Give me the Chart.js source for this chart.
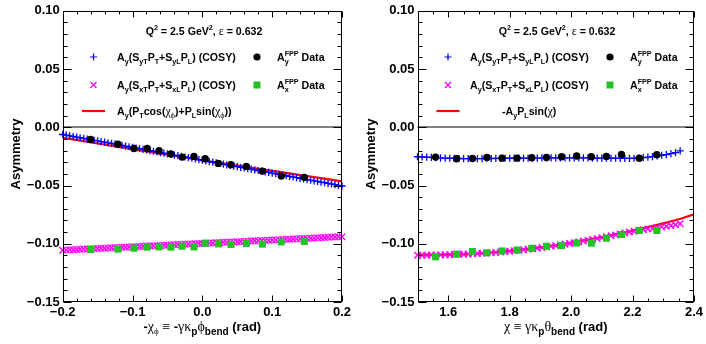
<!DOCTYPE html>
<html><head><meta charset="utf-8">
<script src="https://cdn.jsdelivr.net/npm/chart.js@4"></script>
<style>
html,body{margin:0;padding:0;background:#fff;}
#wrap{position:relative;width:706px;height:344px;background:#fff;}
canvas{position:absolute;left:0;top:0;}
</style></head><body>
<div id="wrap"><canvas id="c1" width="706" height="344"></canvas><canvas id="c2" width="706" height="344"></canvas></div>
<script>
// ---------------- data: left panel ----------------
const leftCosyX = [-0.200,-0.195,-0.190,-0.185,-0.180,-0.175,-0.170,-0.165,-0.160,-0.155,
-0.150,-0.145,-0.140,-0.135,-0.130,-0.125,-0.120,-0.115,-0.110,-0.105,
-0.100,-0.095,-0.090,-0.085,-0.080,-0.075,-0.070,-0.065,-0.060,-0.055,
-0.050,-0.045,-0.040,-0.035,-0.030,-0.025,-0.020,-0.015,-0.010,-0.005,
0.000,0.005,0.010,0.015,0.020,0.025,0.030,0.035,0.040,0.045,
0.050,0.055,0.060,0.065,0.070,0.075,0.080,0.085,0.090,0.095,
0.100,0.105,0.110,0.115,0.120,0.125,0.130,0.135,0.140,0.145,
0.150,0.155,0.160,0.165,0.170,0.175,0.180,0.185,0.190,0.195,0.200];
const leftCosyAy = [-0.0062,-0.0068,-0.0073,-0.0079,-0.0084,-0.0090,-0.0095,-0.0101,-0.0106,-0.0112,
-0.0117,-0.0123,-0.0128,-0.0134,-0.0139,-0.0145,-0.0150,-0.0156,-0.0161,-0.0167,
-0.0172,-0.0178,-0.0184,-0.0189,-0.0195,-0.0200,-0.0206,-0.0211,-0.0217,-0.0222,
-0.0228,-0.0233,-0.0239,-0.0244,-0.0250,-0.0255,-0.0261,-0.0266,-0.0272,-0.0277,
-0.0283,-0.0288,-0.0294,-0.0300,-0.0305,-0.0311,-0.0316,-0.0322,-0.0327,-0.0333,
-0.0338,-0.0344,-0.0349,-0.0355,-0.0360,-0.0366,-0.0371,-0.0377,-0.0382,-0.0388,
-0.0393,-0.0399,-0.0404,-0.0410,-0.0416,-0.0421,-0.0427,-0.0432,-0.0438,-0.0443,
-0.0449,-0.0454,-0.0460,-0.0465,-0.0471,-0.0476,-0.0482,-0.0487,-0.0493,-0.0498,-0.0504];
const leftCosyAx = [-0.1055,-0.1054,-0.1052,-0.1051,-0.1049,-0.1048,-0.1046,-0.1045,-0.1043,-0.1042,
-0.1041,-0.1039,-0.1038,-0.1036,-0.1035,-0.1033,-0.1032,-0.1030,-0.1029,-0.1027,
-0.1026,-0.1025,-0.1023,-0.1022,-0.1020,-0.1019,-0.1017,-0.1016,-0.1014,-0.1013,
-0.1012,-0.1010,-0.1009,-0.1007,-0.1006,-0.1004,-0.1003,-0.1001,-0.1000,-0.0998,
-0.0997,-0.0996,-0.0994,-0.0993,-0.0991,-0.0990,-0.0988,-0.0987,-0.0985,-0.0984,
-0.0983,-0.0981,-0.0980,-0.0978,-0.0977,-0.0975,-0.0974,-0.0972,-0.0971,-0.0969,
-0.0968,-0.0967,-0.0965,-0.0964,-0.0962,-0.0961,-0.0959,-0.0958,-0.0956,-0.0955,
-0.0954,-0.0952,-0.0951,-0.0949,-0.0948,-0.0946,-0.0945,-0.0943,-0.0942,-0.0940,-0.0939];
const leftDataX  = [-0.160,-0.121,-0.098,-0.079,-0.062,-0.045,-0.029,-0.012,0.004,0.023,0.041,0.063,0.086,0.113,0.146];
const leftDataAy = [-0.0104,-0.0145,-0.0182,-0.0182,-0.0201,-0.0230,-0.0256,-0.0250,-0.0270,-0.0310,-0.0321,-0.0336,-0.0376,-0.0419,-0.0430];
const leftDataAx = [-0.1049,-0.1046,-0.1038,-0.1029,-0.1027,-0.1029,-0.1021,-0.1027,-0.0995,-0.1001,-0.1006,-0.0997,-0.1003,-0.0984,-0.0980];
const leftModelX = [-0.20,-0.15,-0.10,-0.05,0.00,0.05,0.10,0.15,0.20];
const leftModelY = [-0.0090,-0.0139,-0.0187,-0.0236,-0.0284,-0.0329,-0.0374,-0.0419,-0.0464];
const leftXTicks = [-0.2,-0.1,0.0,0.1,0.2];
const leftXLabels = ['\u22120.2','\u22120.1','0.0','0.1','0.2'];

// ---------------- data: right panel ----------------
const rightCosyX = [1.500,1.515,1.530,1.545,1.560,1.575,1.590,1.605,1.620,1.635,
1.650,1.665,1.680,1.695,1.710,1.725,1.740,1.755,1.770,1.785,
1.800,1.815,1.830,1.845,1.860,1.875,1.890,1.905,1.920,1.935,
1.950,1.965,1.980,1.995,2.010,2.025,2.040,2.055,2.070,2.085,
2.100,2.115,2.130,2.145,2.160,2.175,2.190,2.205,2.220,2.235,
2.250,2.265,2.280,2.295,2.310,2.325,2.340,2.355];
const rightCosyAy = [-0.0253,-0.0255,-0.0257,-0.0259,-0.0261,-0.0263,-0.0264,-0.0266,-0.0267,-0.0268,
-0.0269,-0.0269,-0.0270,-0.0269,-0.0269,-0.0268,-0.0268,-0.0267,-0.0267,-0.0266,
-0.0266,-0.0265,-0.0265,-0.0265,-0.0264,-0.0264,-0.0264,-0.0263,-0.0263,-0.0263,
-0.0262,-0.0262,-0.0262,-0.0262,-0.0262,-0.0262,-0.0263,-0.0263,-0.0263,-0.0264,
-0.0264,-0.0265,-0.0266,-0.0266,-0.0267,-0.0267,-0.0267,-0.0266,-0.0264,-0.0261,
-0.0257,-0.0252,-0.0246,-0.0240,-0.0234,-0.0227,-0.0217,-0.0203];
const rightCosyAx = [-0.1098,-0.1098,-0.1098,-0.1097,-0.1097,-0.1096,-0.1095,-0.1094,-0.1093,-0.1091,
-0.1090,-0.1088,-0.1086,-0.1084,-0.1082,-0.1079,-0.1077,-0.1074,-0.1071,-0.1067,
-0.1064,-0.1060,-0.1056,-0.1052,-0.1047,-0.1043,-0.1038,-0.1033,-0.1027,-0.1022,
-0.1016,-0.1010,-0.1004,-0.0997,-0.0991,-0.0984,-0.0977,-0.0970,-0.0963,-0.0955,
-0.0948,-0.0940,-0.0932,-0.0924,-0.0916,-0.0908,-0.0900,-0.0893,-0.0886,-0.0880,
-0.0874,-0.0868,-0.0862,-0.0856,-0.0850,-0.0843,-0.0836,-0.0829];
const rightDataX  = [1.559,1.627,1.679,1.726,1.775,1.824,1.872,1.920,1.969,2.018,2.066,2.115,2.164,2.222,2.279];
const rightDataAy = [-0.0256,-0.0270,-0.0267,-0.0259,-0.0265,-0.0265,-0.0261,-0.0259,-0.0253,-0.0247,-0.0253,-0.0250,-0.0233,-0.0265,-0.0235];
const rightDataAx = [-0.1112,-0.1089,-0.1066,-0.1078,-0.1062,-0.1054,-0.1039,-0.1022,-0.1016,-0.0993,-0.0995,-0.0952,-0.0920,-0.0886,-0.0886];
const rightModelX = [1.50,1.55,1.60,1.65,1.70,1.75,1.80,1.85,1.90,1.95,2.00,2.05,2.10,2.15,2.20,2.25,2.30,2.35,2.40];
const rightModelY = [-0.1093,-0.1095,-0.1094,-0.1090,-0.1083,-0.1073,-0.1061,-0.1047,-0.1030,-0.1011,-0.0990,-0.0967,-0.0942,-0.0915,-0.0887,-0.0857,-0.0825,-0.0790,-0.0747];
const rightXTicks = [1.6,1.8,2.0,2.2,2.4];
const rightXLabels = ['1.6','1.8','2.0','2.2','2.4'];

// ---------------- shared y axis ----------------
const yTicks = [-0.15,-0.10,-0.05,0.00,0.05,0.10];
const yTickLabels = ['\u22120.15','\u22120.10','\u22120.05','0.00','0.05','0.10'];

// ---------------- helpers ----------------
const SANS = '"Liberation Sans", Arial, Helvetica, sans-serif';
const GREEK = '"Liberation Serif", "DejaVu Serif", serif';
const GREEN = '#22c322';
function fnt(size,bold,fam){return (bold?'bold ':'')+size+'px '+(fam||SANS);}
function zip(xs,ys){return xs.map((x,i)=>({x:x,y:ys[i]}));}
function labelFor(vals,labels,v){let bi=0,bd=1e9;vals.forEach((t,i)=>{const d=Math.abs(t-v);if(d<bd){bd=d;bi=i;}});return labels[bi];}

function drawRich(ctx, segs, x, y, align){
  let w=0; const items=[];
  for(const s of segs){ctx.font=s.f;const mw=ctx.measureText(s.t).width;items.push({s:s,mw:mw});if(s.adv!==false)w+=mw;}
  let cx = align==='center'? x-w/2 : (align==='right'? x-w : x);
  ctx.textBaseline='alphabetic'; ctx.textAlign='left'; ctx.fillStyle='#000';
  for(const it of items){ctx.font=it.s.f;ctx.fillText(it.s.t,cx,y+(it.s.dy||0));if(it.s.adv!==false)cx+=it.mw;}
}
const M=t=>({t:t,f:fnt(10.6,true)});
const SB=t=>({t:t,f:fnt(7.2,true),dy:3});
const SBn=t=>({t:t,f:fnt(7.2,true),dy:3,adv:false});
const SP=t=>({t:t,f:fnt(7.2,true),dy:-5});
const G=t=>({t:t,f:fnt(12,false,GREEK)});
const GS=t=>({t:t,f:fnt(8,false,GREEK),dy:3});

function marker(ctx,type,x,y){
  ctx.save();
  if(type==='plus'){ctx.strokeStyle='#0000ff';ctx.lineWidth=1.2;ctx.beginPath();ctx.moveTo(x-3.5,y);ctx.lineTo(x+3.5,y);ctx.moveTo(x,y-3.5);ctx.lineTo(x,y+3.5);ctx.stroke();}
  else if(type==='cross'){ctx.strokeStyle='#ff00ff';ctx.lineWidth=1.3;ctx.beginPath();ctx.moveTo(x-3,y-3);ctx.lineTo(x+3,y+3);ctx.moveTo(x+3,y-3);ctx.lineTo(x-3,y+3);ctx.stroke();}
  else if(type==='dot'){ctx.fillStyle='#000';ctx.beginPath();ctx.arc(x,y,3.6,0,Math.PI*2);ctx.fill();}
  else if(type==='square'){ctx.fillStyle=GREEN;ctx.fillRect(x-3.5,y-3.5,7,7);}
  else if(type==='line'){ctx.strokeStyle='#ff0000';ctx.lineWidth=2.2;ctx.beginPath();ctx.moveTo(x-11.5,y);ctx.lineTo(x+11.5,y);ctx.stroke();}
  ctx.restore();
}

function framePlugin(p){
  return {
    id:'frame'+p.id,
    beforeDatasetsDraw(chart){
      const ctx=chart.ctx,a=chart.chartArea,ys=chart.scales.y;
      const y0=Math.round(ys.getPixelForValue(0));
      ctx.save();ctx.strokeStyle='#7f7f7f';ctx.lineWidth=2;
      ctx.beginPath();ctx.moveTo(a.left,y0);ctx.lineTo(a.right,y0);ctx.stroke();ctx.restore();
    },
    afterDraw(chart){
      const ctx=chart.ctx,a=chart.chartArea,xs=chart.scales.x,ys=chart.scales.y;
      const L=Math.round(a.left)+0.5,R=Math.round(a.right)-0.5,T=Math.round(a.top)+0.5,B=Math.round(a.bottom)-0.5;
      ctx.save();
      ctx.strokeStyle='#000';ctx.lineWidth=1;
      ctx.strokeRect(L,T,R-L,B-T);
      ctx.beginPath();
      const nx=Math.round((p.xMax-p.xMin)/p.xMinor);
      for(let i=0;i<=nx;i++){
        const v=p.xMin+i*p.xMinor;
        const major=p.xTicks.some(t=>Math.abs(t-v)<1e-6);
        const len=major?6:3;
        const px=Math.round(xs.getPixelForValue(v))+0.5;
        ctx.moveTo(px,B);ctx.lineTo(px,B-len);
        ctx.moveTo(px,T);ctx.lineTo(px,T+len);
      }
      const ny=Math.round((0.10+0.15)/0.01);
      for(let i=0;i<=ny;i++){
        const v=-0.15+i*0.01;
        const major=yTicks.some(t=>Math.abs(t-v)<1e-6);
        const len=major?8:4;
        const py=Math.round(ys.getPixelForValue(v))+0.5;
        ctx.moveTo(L,py);ctx.lineTo(L+len,py);
        ctx.moveTo(R,py);ctx.lineTo(R-len,py);
      }
      ctx.stroke();
      ctx.restore();
      ctx.save();
      ctx.translate(p.yTitleX,154);ctx.rotate(-Math.PI/2);
      drawRich(ctx,[{t:'Asymmetry',f:fnt(13,true)}],0,4.5,'center');
      ctx.restore();
      drawRich(ctx,p.xTitle,(a.left+a.right)/2,331,'center');
      drawRich(ctx,[M('Q'),SP('2'),M(' = 2.5 GeV'),SP('2'),M(', '),G('\u03b5'),M(' = 0.632')],p.qX,35,'center');
      const lg=p.legend;
      marker(ctx,'plus',lg.mx,57); drawRich(ctx,lg.row1,lg.tx,61,'left');
      marker(ctx,'dot',lg.dx,57); drawRich(ctx,[M('A'),SBn('y'),SP('FPP'),M(' Data')],lg.dtx,61,'left');
      marker(ctx,'cross',lg.mx,85); drawRich(ctx,lg.row2,lg.tx,89,'left');
      marker(ctx,'square',lg.dx,85); drawRich(ctx,[M('A'),SBn('x'),SP('FPP'),M(' Data')],lg.dtx,89,'left');
      marker(ctx,'line',lg.mx,111); drawRich(ctx,lg.row3,lg.t3x,115,'left');
    }
  };
}

function makeChart(id,p){
  const tickFont={family:SANS,size:13,weight:'bold'};
  return new Chart(document.getElementById(id),{
    type:'scatter',
    data:{datasets:[
      {data:zip(p.dX,p.dAy),pointStyle:'circle',pointRadius:3.7,pointBackgroundColor:'#000',pointBorderColor:'#000',pointBorderWidth:0,showLine:false,order:1,clip:false},
      {data:zip(p.dX,p.dAx),pointStyle:'rect',pointRadius:5,pointBackgroundColor:GREEN,pointBorderColor:GREEN,pointBorderWidth:0,showLine:false,order:2,clip:false},
      {data:zip(p.cX,p.cAy),pointStyle:'cross',pointRadius:3.6,pointBackgroundColor:'#0000ff',pointBorderColor:'#0000ff',pointBorderWidth:1.3,showLine:false,order:3,clip:false},
      {data:zip(p.cX,p.cAx),pointStyle:'crossRot',pointRadius:4.6,pointBackgroundColor:'#ff00ff',pointBorderColor:'#ff00ff',pointBorderWidth:1.4,showLine:false,order:4,clip:false},
      {data:zip(p.mX,p.mY),showLine:true,borderColor:'#ff0000',borderWidth:2.2,pointRadius:0,fill:false,cubicInterpolationMode:'monotone',order:5}
    ]},
    options:{
      responsive:false,animation:false,devicePixelRatio:1,events:[],
      layout:{padding:p.pad},
      plugins:{legend:{display:false},tooltip:{enabled:false}},
      scales:{
        x:{type:'linear',min:p.xMin,max:p.xMax,
          afterFit:s=>{s.height=42;},
          afterBuildTicks:s=>{s.ticks=p.xTicks.map(v=>({value:v}));},
          ticks:{autoSkip:false,maxRotation:0,minRotation:0,padding:3,color:'#000',font:tickFont,
            callback:v=>labelFor(p.xTicks,p.xLabels,v)},
          grid:{display:false,drawTicks:false},border:{display:false}},
        y:{type:'linear',min:-0.15,max:0.10,
          afterFit:s=>{s.width=p.yW;},
          afterBuildTicks:s=>{s.ticks=yTicks.map(v=>({value:v}));},
          ticks:{autoSkip:false,padding:3,color:'#000',font:tickFont,
            callback:v=>labelFor(yTicks,yTickLabels,v)},
          grid:{display:false,drawTicks:false},border:{display:false}}
      }
    },
    plugins:[framePlugin(p)]
  });
}

const XT=t=>({t:t,f:fnt(13,true)});
const XG=t=>({t:t,f:fnt(14,false,GREEK)});
const XGS=t=>({t:t,f:fnt(9,false,GREEK),dy:3});
const XS=t=>({t:t,f:fnt(10,true),dy:4});

makeChart('c1',{
  id:1,xMin:-0.2,xMax:0.2,xMinor:0.02,xTicks:leftXTicks,xLabels:leftXLabels,
  cX:leftCosyX,cAy:leftCosyAy,cAx:leftCosyAx,dX:leftDataX,dAy:leftDataAy,dAx:leftDataAx,mX:leftModelX,mY:leftModelY,
  pad:{left:0,top:10,right:364,bottom:0},yW:62.7,yTitleX:15,qX:204,
  xTitle:[XT('-'),XG('\u03c7'),XGS('\u03d5'),XG(' \u2261 '),XT('-'),XG('\u03b3\u03ba'),XS('p'),XG('\u03d5'),XS('bend'),XT(' (rad)')],
  legend:{mx:93.5,tx:117,dx:257,dtx:277,t3x:117,
    row1:[M('A'),SB('y'),M('(S'),SB('yT'),M('P'),SB('T'),M('+S'),SB('yL'),M('P'),SB('L'),M(') (COSY)')],
    row2:[M('A'),SB('y'),M('(S'),SB('xT'),M('P'),SB('T'),M('+S'),SB('xL'),M('P'),SB('L'),M(') (COSY)')],
    row3:[M('A'),SB('y'),M('(P'),SB('T'),M('cos('),G('\u03c7'),GS('\u03d5'),M(')+P'),SB('L'),M('sin('),G('\u03c7'),GS('\u03d5'),M('))')]}
});
makeChart('c2',{
  id:2,xMin:1.5,xMax:2.4,xMinor:0.05,xTicks:rightXTicks,xLabels:rightXLabels,
  cX:rightCosyX,cAy:rightCosyAy,cAx:rightCosyAx,dX:rightDataX,dAy:rightDataAy,dAx:rightDataAx,mX:rightModelX,mY:rightModelY,
  pad:{left:0,top:10,right:12,bottom:0},yW:417.5,yTitleX:370,qX:557,
  xTitle:[XG('\u03c7'),XG(' \u2261 '),XG('\u03b3\u03ba'),XS('p'),XG('\u03b8'),XS('bend'),XT(' (rad)')],
  legend:{mx:448,tx:470,dx:610,dtx:630,t3x:502,
    row1:[M('A'),SB('y'),M('(S'),SB('yT'),M('P'),SB('T'),M('+S'),SB('yL'),M('P'),SB('L'),M(') (COSY)')],
    row2:[M('A'),SB('y'),M('(S'),SB('xT'),M('P'),SB('T'),M('+S'),SB('xL'),M('P'),SB('L'),M(') (COSY)')],
    row3:[M('-A'),SB('y'),M('P'),SB('L'),M('sin('),G('\u03c7'),M(')')]}
});
</script>
</body></html>
